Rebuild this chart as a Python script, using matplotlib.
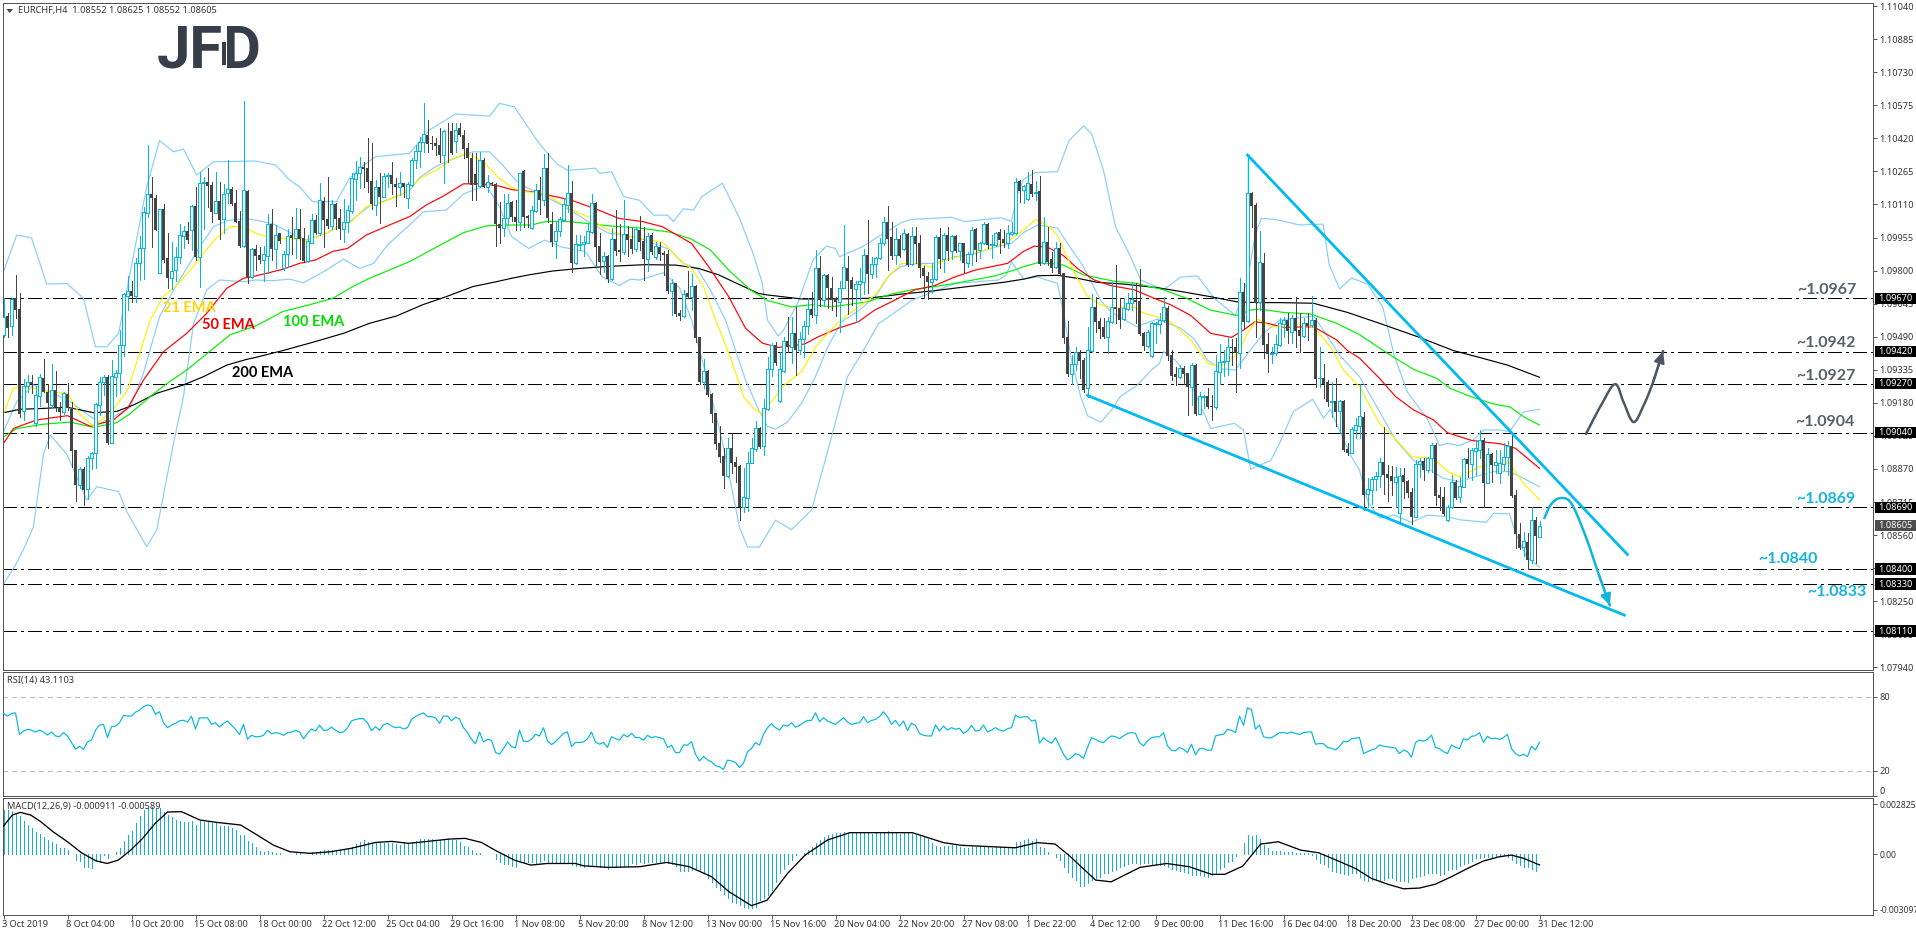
import numpy as np
import matplotlib
matplotlib.use("Agg")
import matplotlib.pyplot as plt
from matplotlib.patches import Rectangle

# ---------------- data: prices are in pips above 1.0000 ----------------
candle_dirs = ("UDUDDUUDUUDDUDDU" "DDDUDUUUUUDUUUUU" "DUUUUDDUDDUUUUDU" "DUUDDUDUUDDDUDUD"
               "DUUDUDUUDUDDUUDU" "DDUDDUUUUUDDDUDU" "UDDUDUUUUUDDDDUD" "DUDDDDDUDUDDDUUD"
               "DUDDUUDUDDUUUUDU" "UUUUDDUDUDDUDDUD" "DUDUDDDUDDUDUDDU" "DDDDDUDDDUUUUDUU"
               "UDUUDUDUUUDUDUDD" "DUUDDUUUDUUUUDDU" "DUDUDDDDUUDUDUDU" "DUUDUUDUUDDUUUDU"
               "UDUDUDDUDDDUUDDU" "UDDDUUDDUUUDDDUU" "UUUDDDUDDUDUUDDU" "UUUDDUDUDDUDDUUU"
               "UDUDDUDUDUDDUDUD" "DUUUDUUUUDDDUUDD" "DUUDUUDDDUUDUUDU" "UUDUDUUUUDDDUDUDU")

body_top = [
958.4,958.7,966.7,967,962,926,928,928,921.7,930,929.5,923,924,924,916,922.5,
922,915,896,887,887,892,894.3,917.3,927.6,930,930.3,930.6,932,945,969,970.3,
970.3,983.4,990.4,1007.6,1016,1016,1014,1008.7,1008.7,986,980,986.5,996.7,998.6,998.6,1010.3,
1010.3,1021,1021.5,1021.4,1020,1012.8,1012.6,1016,1018.4,1018.3,1011.5,1003.4,1017.8,1017.3,990,990,
987.3,987.8,1002,1001.8,996.7,997.5,987.8,996.2,996.7,999.3,999.3,995.4,993.9,1003.7,1003.7,1013,
1012.6,1004,1011.2,1011.2,1004.5,1002.6,1008.4,1023.3,1026,1028.4,1028.4,1028,1022,1019,1019,1024.3,
1024.8,1024.8,1020.6,1020.9,1020.9,1020.4,1032,1036.2,1040.4,1044,1043.6,1039.7,1040,1038.9,1045.4,1045,
1045.4,1046,1046.7,1043.6,1037.3,1033,1025.3,1032,1031.8,1021.7,1021.2,1020.4,1002,1004.5,1011.8,1012.3,
1005,1026,1026.7,1005.6,1008.4,1018,1017.8,1028,1028,1002,998.7,1004,1011.2,1016.2,1016.2,992.3,
992.5,993.6,998.6,1011.5,1011.5,991.5,986.8,986.8,994.7,994.7,989.7,997,997,994.7,999.3,999,
993.9,996.2,996.7,991.5,991.2,988.4,987.6,974,974,960.3,968.9,969.3,972.8,972.8,948.7,933,
933,922,913.4,899,893,896.7,896.7,890.4,888.4,873.7,890,896.7,906,906.4,915.4,934,
945,945,933.7,947,947,950.6,950.6,947.8,954,962,962,981,981,978,978,972,
967,972,981.5,981,975.6,973.7,975,987.3,987.3,983,985.8,993,1002.6,1003,995.6,995,
995,997.5,997,996.2,996,992.8,981,977.5,976,995.9,995.6,996.7,996.7,996.2,996.2,992.8,
992.8,988,999,999.3,992.8,1001.7,1001.7,992.3,997.5,998,995,997.5,998.3,1021.4,1022,1019.7,
1020.9,1020.6,1017,1017.3,993.3,993.3,985.4,990.4,990.4,978.7,949,936,942,942,938,942.8,
962.8,962.8,956.4,953.4,956.4,962.8,963,962.3,962.3,965,966.7,966.2,965.8,950.6,951.4,955.3,
955.3,956.8,962.8,962.3,940.4,931.5,934.2,934.5,931.8,935.8,935.8,921.2,921.2,921.2,916.5,933,
937,937.8,944.3,944.3,944.3,970,970,1016.2,1016.5,1010.7,983.9,983.4,945.6,941.2,945.6,955.3,
956.8,957,957.6,958,952,955.3,955.6,957,957,929.8,929.8,927.6,918.9,918.9,919,919,
896.4,905.6,907.6,911.8,911.5,877.5,882.2,883.7,890.1,890.1,884.5,883.7,883.4,883.7,884.2,881.4,
876.2,889.2,890.7,890.7,892.3,898.3,898.3,874.8,873.7,869,880.9,880.9,879,891.5,891.7,895.9,
896.7,900.6,900.6,894,894,890.4,889.7,892.5,897.8,897.8,874.8,856.5,853.2,852.9,863,863,860.5]

body_bottom = [
949.8,953,954,961.5,913,914,926,927,908.4,921.4,923,918,917,916,913.5,913.5,
915.5,895.5,879.5,879.5,877,877.6,892,894.3,917,927.6,899,899.3,930,932,945,968,
968,968,983.4,990.8,1007,1014,999,979,985,976.4,976.7,980.3,986.5,996.4,994.3,999,
986.5,986.5,1021,1019.7,1007.6,1007,1003.7,1004,1016.5,1011,1003,991.7,991.7,977,977,987,
985,985,987,990,990,994,981.4,987.6,995.4,995.4,995,984.5,984.5,993,997.8,997.5,
1003.7,1000.9,1001,1004,999.3,999.3,1002.6,1008,1022.8,1026,1027.5,1021.7,1011,1010.8,1014.6,1014.6,
1024.3,1020.4,1019,1019.3,1019,1013.9,1020,1031.8,1036,1040.3,1039.3,1039.3,1038.6,1034.2,1034.2,1044.8,
1035,1041,1043.6,1036.8,1032.6,1020,1020,1019.7,1019.3,1019.3,1020.4,1001.7,999.8,1000,1004.5,1005,
1003,1003,1005.3,1004.8,999.8,1008,1013,1013,1004.5,993.6,994,998.7,1003.7,1010.8,983.7,983.4,
992,992.3,993,998.3,991,984.2,984.7,976.2,976.2,989.2,988.9,988.9,994.3,990,990,993.6,
985.4,985.4,988.6,986.5,988,987.3,970.6,970.6,959.7,958.7,958.7,967.8,967.8,948.3,928,928,
921.7,913,898.7,892.8,883.9,883.9,890,888,869,869,873.6,890,896.4,897.5,898,915,
934,936.5,919,933,944,944,942.8,942.8,947.8,954,959,959,966,966,972,966,
965.4,965.4,972,975.3,971.4,971.4,973.6,974.8,978.4,978.4,983,985.8,992.8,995,986.8,987.3,
986.8,990,982.6,983,992.5,981,977.6,974.8,974.8,976,985.3,985.3,989.3,989.2,989.3,989.3,
983.4,983.4,988,989.7,989.7,992.8,992,992,992,994.3,992.8,992.8,997.2,997.8,1017.5,1018,
1013.6,1015.7,1016.2,983,983.4,984.2,981.4,981.8,978.4,948.6,931.5,931.5,936,937.8,924,924.8,
942.5,956,952.6,948.7,948.7,956,962,957,957.3,962,965,965.4,950.3,944.6,944.6,940,
954.8,955,956.8,940,930.8,930.3,930.3,931.5,925.6,925.6,913,913,920.6,916.2,915.9,915.9,
932.6,937,937.8,943.6,941.5,941.2,956,956.5,1010.4,965,965.4,945.1,940.8,940.8,941.2,945.1,
955,951.8,951.4,951.8,949.3,949.3,954,954.5,929,929.5,927,918.6,918.6,913.9,914,895.9,
894.3,894.7,905.3,907.3,874.8,875.3,877.2,882.2,883.9,884.2,883,881.4,881,866.5,881,875.9,
864.7,864.7,889.2,886.5,886.5,892,874.5,873.6,865.8,863,869,873.3,873.7,878.7,889.3,889.3,
895.4,895.9,880.6,880.6,888.9,888.9,885,889.3,892.5,874.5,856.5,849.8,850.6,844.3,844.3,855.6,855.2]

wick_high = [
967,960,967,978,969.5,929,931,931,926,931.5,938.5,927,936,933,918.5,923,
927.5,918.5,896,888,888,893,895,918,930,931,931,938,933.5,952,969.5,977.5,
975,986,996,1010,1039,1024,1015.5,1009,1011,997.5,993.5,991,1001.7,1001,1003,1010.8,
1019.3,1026.4,1024,1028,1021.7,1026.4,1021.7,1020.4,1032,1019,1018,1008,1059.5,1017.8,990.4,992,
991,991.5,1006.5,1009,1001.4,997.8,989,999.3,1005,1009.5,1008.7,999.8,996.7,1006.5,1006,1021,
1014.3,1023.7,1013,1011.8,1008.7,1013.4,1010.8,1025.6,1031.5,1033.4,1031,1042,1039.7,1022.5,1025.6,1025.6,
1025.6,1030.8,1023.3,1026.4,1021,1021.7,1032.6,1038.9,1042.8,1058.4,1050.6,1043,1042,1047,1046,1049.3,
1049.3,1049,1049.3,1046,1040,1035,1035,1035.8,1032.6,1024.8,1021.7,1021,1012.3,1016,1016,1012.8,
1013,1026,1027,1006,1010.3,1020.4,1023.7,1034.7,1035,1007.6,1003,1005,1013.9,1029.5,1022,996.7,
996.7,996,1002,1016,1012.3,997.5,988.6,987.3,999.8,1008.4,1001.8,1013,1001,999.8,999.8,1005.6,
1000.3,997.5,997.5,993.6,993.6,989.3,989.7,975.9,974.3,961.5,970.9,980,978.3,973.3,949,938.4,
933.4,922.8,913.4,907,896.7,901.4,904,892.8,888.9,887.5,895,901.4,909.5,906.8,920,939.3,
946,946.7,942,949,958.4,958.4,963,951.4,956.5,967,970,989.7,986.8,978.4,978.4,977,
967.8,975.3,1001.4,986.8,977,975.3,981,990,1003.7,986.2,986.5,995.4,1005.3,1010.3,1003,999.8,
996.7,999.3,997.5,1000.6,1000.6,996.7,982,979.5,983.7,996.7,999.8,997.8,1000.3,996.7,996.7,993,
993,988.9,1000.3,999.8,993.6,1002.6,1002.5,996.7,998.3,999.3,999,1001.4,1003,1023.3,1022.5,1020,
1026.4,1027,1022,1024.3,1005,1000.6,988.9,993.6,993,979,956.4,940.4,944.3,942.8,938.9,953.4,
969,967.8,957.6,958,958.4,974.8,982.6,967,967,969.3,974.8,974,980.6,951.4,952.2,956,
956,960,967.5,963.4,942.8,934.7,935.8,935.3,932,936.5,936,923.3,921.7,924.8,921.7,940.4,
945.6,942.8,949,947.8,948.3,976.4,974,1034.2,1017,1011.8,998.6,988.4,950.6,944.3,949.8,957.6,
958.4,960,959.2,967.8,960,957.6,960,968,957.6,944,936.2,928.7,928,929.8,919.4,919.4,
899.3,906.8,910.8,926.8,913.9,882.6,883.4,885.8,892,906.8,888.9,888.4,888,887.3,887.3,881.8,
878,891.2,892,892,892.8,899,899,878.7,878.7,870,884.2,881.8,883.4,892,896.7,896.7,
900.6,905.3,901.4,896.7,894.3,895.9,895.9,899,900.3,903.7,877,861.5,857.6,856.8,869,864.3,862.5]

wick_low = [
949,949,950,958,911.5,910,923,922.5,907,916.5,923,897,915.5,914,910,913,
914.5,888,872,878,870,873,887,887.5,912.3,921.7,898.7,899,921,922.5,940,961.5,
965.5,965.5,975.6,976,1005,991,999,978.7,984,971.7,971.4,975,983.4,990.4,992.8,989.7,
985,972.5,999.3,1010,1003,1007,995,997.5,1011.5,1010.8,1003,991,991,974.3,976.4,980.3,
983.4,975,979,985,981.4,992.8,980.3,981.8,988,985.8,985.4,984.2,984.2,992.8,997.2,996.7,
991.3,999.8,999.3,999.3,995,993.6,998,1006.8,1013,1018.6,1019,1017,1009,1006,1002.5,1014.3,
1019.3,1016,1010.3,1015.5,1014.7,1009.5,1019.8,1028,1028.4,1035.7,1035.7,1037,1034,1031,1021.2,1031,
1034.7,1035.7,1043,1032.6,1021,1013,1013,1019,1019,1017,1020,991.7,992.8,996.2,1002,1003.4,
999,999,1000.4,1000.4,999.3,1007.6,1006.5,1010.8,1003,991.5,986,996,1003.3,1007.6,979.5,983,
989.7,987,992.8,997.8,982.6,978.4,979.5,974.8,975.6,987.3,984.7,988,987,988.4,989.3,989.7,
975.6,980,988,985.3,985,978,969.3,959.2,958.7,956.8,958.4,967,961.5,946.4,927,924.8,
921.2,909.2,896.2,890.4,878.2,883.4,885,881,863,867,867.5,889.6,895.6,897,893.6,914.7,
930.6,935.7,918.6,932.6,942,936.5,931,941,939.3,950.3,958.4,955.6,963.4,963.4,962.4,961.5,
958.7,951.4,971.7,959.7,963.9,956,966.2,969,969.3,976.4,977,985.3,992,980.3,985.3,983,
986.5,989.7,982,982.6,983.4,977,967,966.5,969.3,975.6,981,979.5,985,985.3,988.9,985,
979.5,981.8,982.6,984.7,985.8,992.5,990.4,985.8,991.5,988.4,990.9,990.4,996.7,997.2,1012.3,1011.5,
1013,1015,1013,982.6,983,982.6,979.5,981.4,977.9,946,930.6,927,933.4,929.5,923.3,920.9,
942,951.4,948.3,948.3,941.2,955.6,955.3,953.3,956.8,961.5,961.5,955.6,949.8,942.8,944.3,939.7,
946.2,950.6,956,938,928.7,926.4,929.8,927,912.3,917,912.3,912.8,915.4,915.4,910,915,
927,930.6,931,935.7,923.3,934.2,953,956,1000.3,948.7,961.5,938.9,932.6,936.5,940.4,944.7,
949,946,945.9,944.3,942,948.7,947.5,953.7,925.6,925.6,920.4,916.5,911.5,907.3,903.7,895.4,
893.6,894.3,901.4,901.4,867.8,869.3,870.6,877,878.4,875.3,872.2,874.8,869.3,861.5,873.3,874,
861.2,864.3,883.4,881.8,885.8,885.8,870,867.8,865.5,862.8,868.6,872.8,871.7,878.4,883.4,881.8,
884.2,892,869,880.3,881,885,880.6,886.5,884.2,874,849.8,849.3,846,840,842.8,843,855.2]

ema21_idx = [0,2.5,6.7,12.5,16,19,22.5,27.5,31,34,36.7,40,43,47.5,52.5,56.7,60,63,67.3,71.5,75.7,80,84,87,90.7,94.8,99.8,104,109,112.3,116,120,123.5,127,130.5,135.5,138,143,147,150,155.5,160.5,165,169.5,172,175,178,182,185,187.5,189.5,192,195,199.5,203,206,209.5,214.5,218,220.5,224.5,228,232,235.3,240,245.3,251,255,258,261,263.5,265.5,267.7,271,274.3,277.7,282.7,285,288.5,291.8,296.8,301,304.3,308.5,311,313.5,317,320,324,327.5,332,335,339,344,347.5,352,357.5,361,364,369,373.3,376.5,380,384]
ema21_val = [913,925,925,923,922.5,913,907,915,924,941,957,968,972.5,982,994,1000.6,1000.6,997.5,995,995,994,997,1000.6,1003,1010,1012,1016,1023,1028,1032.6,1035,1031,1024,1019,1017,1016,1013,1007.6,1004.5,1000,996,995,993,984,981,972.5,957,938,921,915.4,913,918.6,926,932.6,944,950.6,957,964,968.6,975.6,983.4,983.4,981.5,985,987,989.6,993.6,999,1004,1001,996.7,988,979,968,964,962.3,963,960,958.4,956,947.5,936.5,935,941,950.6,957.3,953.7,953.7,955,953.7,943.6,933.4,925.6,908.4,902,892.8,892,885.8,883.4,888,889.7,889.7,880.3,872.5]

ema50_idx = [0,2.5,8.3,16,21.7,27.5,31,35,40,45.8,50.8,55.8,60,63,69.8,74,78,82.3,86,90.7,96.5,101.5,105.7,110,115,119.7,124,127,132,138,142,148.8,153.8,159.7,164.7,169,172,176.3,181.3,185.5,189.7,193.7,200.3,203.7,208.7,213.7,217.8,222,227.8,232.8,237.8,243,251,255,257.7,261,265,268.5,272.7,276.8,282.7,287.7,291.8,296.8,301.8,307,310.3,312.8,316,320,327.5,333.3,336,339,344,348,352.5,357.5,361,367,374.5,378,384]
ema50_val = [899,906,910,912,907,910,915.4,928.7,942,950.6,960,971.7,976.4,977.5,980.6,983.4,985,989,990.4,996.7,1001.4,1005.3,1010.8,1015,1020.7,1020.7,1019.6,1018,1017,1014.7,1013,1008.4,1004.5,1003,1000.6,996,992.8,981.8,967.8,953,946,944,945.6,949,953,956,961.5,965.4,971,973,977,980.3,983.4,989,991.5,991,987,981,975.6,973,971,967,964,959,950.6,948.7,952.5,956,955.3,953.4,953.7,947.5,942.5,939,929.5,921,914.7,910,904,900.4,898.7,896.7,887.3]

ema100_idx = [0,3.3,10,16.7,22.5,28.3,31.7,36.7,40.8,45.8,50.8,56.7,63,69.8,76.5,82.3,87.3,91.5,96.5,101.5,108.2,115,120.7,127,132,135.5,141.3,151.3,159,166.7,171.7,176.7,181.7,186.7,191,197,202,207,216,222,227,232.8,237.8,247.8,252.8,255,258.5,261.5,265,270,277.7,283.3,290,295.8,301.7,308.3,311.7,314,320,326.7,333.3,339,345.8,352.5,358.3,361.7,366.7,372.5,376.7,380,384]
ema100_val = [902,906,908,909,906.5,908.7,913,921,927,933.4,941,950,954,960.8,964,967,972.5,976.4,980.3,984.2,991,997.8,1001,1001.4,1001.4,1003,1003,1001,1000,998,995,989.7,979.5,971,966,963,964,963,965.4,969,971,972.5,974,977.5,980.3,981.8,983.7,983.4,982.6,978,975,974,971,967,961.5,959,961.5,962,960.4,959.7,955.3,950,941.5,933.7,929.5,924.8,921,917.5,916,911.5,907.6]

ema200_idx = [0,4.2,10,15.8,22.5,28.3,32.5,38.3,45,50,55.8,60.8,63,69.8,77.3,85,91.5,98.2,104.8,110.7,117.3,123.2,127,131.3,137.2,143.8,151.3,160.5,168,173.8,178.8,183.8,188.8,191,199.5,207.8,216,224.5,232.8,241,250,255,258.5,263.5,268.5,273.5,280,288.5,295,301.7,308.3,313.5,319,327.5,336,344,354,362.5,369,376,384]
ema200_val = [913.4,915,915.4,916,913.4,914,917,922.5,926.4,930.3,935.7,938.4,939.3,942.5,946.4,950.6,955.3,958.7,964,967.8,972.5,974.8,976.4,978,979.8,981,982,982.8,982.6,981,978,973.6,969.3,968.6,966.7,966.7,967,969,970.6,972.5,974.5,976,977.6,977.8,976.4,974.5,973.7,972,970,967.8,965.4,965,965,964.7,960.4,955.3,948.7,942.5,939.3,935.7,930]

bb_up_idx = [0,3.3,7,10.8,15.8,20,23,25.8,28.8,31,35.8,39,42.5,45,48.3,52.5,63,68,71.5,74,77.3,83.2,86.5,90,93,101.5,106.5,113,121.5,124,127.7,133.4,135.5,138.4,141,148,149,152,155,159,162.5,166,167.5,170,172.5,174.6,179.7,184,187.4,189.7,191,193.7,195,198.7,202.4,205.7,208,209,214.5,224.5,227,237,240.3,249.5,252,253.3,255,258,263.5,266.4,270,272,275,278,281.8,284.3,290,294.3,298.5,302.7,308,311,313,314.5,318,324,329.9,331.4,334,337,341,344.8,347.7,351,356,359,361,364,367.5,370,374.2,376.5,380,384]
bb_up_val = [979.5,996.7,995.4,973.7,974,967,944.3,944.3,950.6,972.5,1019.3,1041,1035.7,1037,1024.8,1031,1031.4,1029.5,1022.5,1019.3,1012.3,1012.3,1023.3,1029.5,1033.4,1035,1046,1053.4,1052.4,1058.4,1056.8,1041,1036,1030,1027,1028,1025.6,1026.4,1014.7,1013,1006,1006,1003,1009,1008.4,1014.7,1021,1004.6,988,974,956.8,949.3,952,965.4,985,991.5,990.4,986.5,991,1002.6,1004,1005,1003,1004.8,1003,1014.7,1022.8,1026,1026.4,1041,1047.8,1044.3,1027,1000.6,986.5,975.6,971,977,977.5,967,959,975.6,997.5,1004.5,1004,1001.4,1001.8,983,971.4,976.5,973.7,963,940,923,910.4,898,899,898,900.6,905.3,905.3,904.5,913.8,915]

bb_mid_idx = [0,3.3,7.5,11.7,16.7,20,24,27.5,31.7,35,39,43,49,52.5,55.8,60.8,63,67.3,71.5,75.7,80.7,87.3,91.5,96.5,101.5,104,108.2,113.2,117.3,121.5,124.8,128,129.7,134.7,138.8,143,147,151.3,155.5,160.5,166.7,170,173.4,176.7,180.5,185.5,188.8,191,193,196,199.5,203,206,209.5,214,218,221.5,224.5,228.7,232.8,237.8,243,248,252,255,258.5,263.5,266,270,274.3,276.8,283.3,288.5,294.3,297.7,301,304.3,308,311,315,319,327.5,330,334,339,344,348,352.5,356.7,360,364,368,372.5,376.5,380,384]
bb_mid_val = [904.5,918.6,926.4,923,918.6,914,908.4,911.5,916,932,958.4,972.5,991,1000.6,1003.4,1004.5,1003.7,1002,998,994.3,997.5,1004,1010.3,1013.5,1017.4,1023.6,1029,1033,1035.7,1035.7,1029.5,1022.5,1020,1015.4,1011.5,1006.8,1002,997.5,996.7,994.3,989.7,983.4,981,971,956.8,928.7,914.7,907,905.7,909,917.8,930.3,944,956,961.5,968,978,982,983.4,983.4,986.5,988,991,992.8,997.8,1001.4,1000,992.8,981.8,966,960.7,953.7,957.3,953,948,938,934,933.4,941,950.6,956.8,958.7,952,940.4,930.3,914,900.6,891,886.5,882.6,881,883.4,885.8,885.8,882.6,878.7]

bb_lo_idx = [0,3,5,7.5,10,11.7,15.8,20.8,23.3,28.8,30.8,35.8,38.3,42.5,45,47.5,50.8,54,60,63,67.3,71.5,75,80,85,89,92.5,96,101.5,105,110.7,115,120.7,124,127,131.3,135.3,139.7,145.5,149.7,154,156.7,159,165,169,172,176,180,184,186,189,193,197,202,207,211,214.5,218.7,223.7,227,230.3,238,248.7,250.7,252,255,258.5,263.5,265.3,267,269.3,271,274.3,277,279.2,283.5,287,289,290,293,296,298,301.8,307.7,310,311.8,316.8,319,322.5,327.3,330,331.7,336.7,339,341,344,347.7,352,356,361,364,370.7,372.5,376.5,378,380.7,384]
bb_lo_val = [833,842,849.3,860,894,903,894,872.5,878.7,876.4,867,850.6,858.4,899,921,955,971,975.6,974.8,975.6,975.3,976,974.3,979.5,985.4,981,983.4,992,1001.4,1007.6,1008.4,1016,1020,1010,996,990.4,994.3,991,988.9,977,973,976,975.6,979,972,957,928.7,897.4,859.7,850.4,850.4,863,858.6,867.7,902,930.3,941,955,961.5,966,968.6,974,975.6,978,984.2,976,977,974,957,938,921,912,909,914.6,921,926.4,933.4,936.5,942,938,930,922,906,908.4,905.3,886.9,891,899,914,919.7,910.8,915,893.6,886.5,872,864,865.4,862,865.4,864.7,863.2,862,866.2,866,857,846,841]

level_prices = [1.0967, 1.0942, 1.0927, 1.0904, 1.0869, 1.0840, 1.0833, 1.0811]
level_names = ["1.09670", "1.09420", "1.09270", "1.09040", "1.08690", "1.08400", "1.08330", "1.08110"]
price_ticks = [1.11040,1.10885,1.10730,1.10575,1.10420,1.10265,1.10110,1.09955,1.09800,1.09645,1.09490,
               1.09335,1.09180,1.09025,1.08870,1.08715,1.08560,1.08405,1.08250,1.08095,1.07940]

trend_upper_idx, trend_upper_val = [311, 406], [1034.2, 846.9]
trend_lower_idx, trend_lower_val = [271, 405.2], [921.5, 818.5]
path_up_idx = [395.6,399.6,402.9,405,407.5,410,412.4,414.9]
path_up_val = [903.4,917.6,926.8,918.4,909,916.7,927.8,942.3]
path_down_idx = [385.2,387,389.4,392,395.5,399,401.6]
path_down_val = [864,870.7,873.4,870.7,855.6,836.6,823]

rsi_values = [
66.6,64.4,66.6,67,49.6,52.3,53.7,53,51.5,53,51.5,49,51.5,48.3,47.7,51,
48.3,43,37.5,40,37.5,43.4,45,53,57,57.7,47,55.8,56.3,59,65,64.4,
64.4,67.6,69.2,72,73.5,72.5,65.8,68,59,55,57,58.5,60.6,61,59.6,64.4,
54,63,63,63,57.7,59,55.5,58.5,60.4,57,53.7,49.4,57.7,45.6,48.8,47.7,
47.7,48.8,53,50,51,50.4,48.8,51,51.5,52.8,51.5,46,50.4,54,52.3,57,
52.8,53,55.5,53,51,51.5,55,60.4,61.7,62.3,62.3,59,52.6,55.8,53,57.4,
58.5,56.3,55,55.5,54,55,61.7,64,65.8,67,64,64,63,58.5,64.4,64.4,
60.6,63.6,62,55,51,45.6,42,51.5,43.4,45.6,44.8,35,33.5,38,43.4,39.7,
38.6,53,44,43.7,45.6,49.6,48.3,55,44.2,41.3,43.7,47,50.4,51.5,39.7,43,
43,43.4,46,51.5,43.4,41.6,43,39,47.7,46,45,49.4,47.5,50.4,47,47,
44.8,48.8,46.9,47.7,46.9,46.1,38.9,40.8,34.8,34.8,41,40.8,43.7,33.5,28.1,31.6,
28.9,27.3,24.1,23.3,21.1,28.7,28.1,26.8,22.7,26.2,35.4,38.1,42.9,40.8,49.6,55,
58.2,55,53.1,57.2,56.3,59,55.3,56.9,59,60.9,60.9,67.1,59.8,63.1,60.4,59,
57.7,60.4,63.1,59.6,57.7,58.5,59,63.9,59,60.9,61.7,63.9,67.9,63.9,57.7,60.9,
56.3,60.4,52.8,58.5,56.9,50.4,48.8,48.3,48.3,57.2,52.3,56.3,53.1,55,53.7,54.5,
50.4,52.3,56.9,52.3,52.8,57.2,51.5,53.1,55,53.1,52.3,54.2,55,65.2,63.1,63.9,
63.9,60.4,61.2,42.4,46.9,44.2,42.4,46.9,40.2,33.5,28.9,30.8,34,32.7,30,38.9,
46.9,45.6,43.7,42.9,46.1,48.3,47.7,46.1,48.3,50.4,51,50.4,42.9,40.2,44.2,46.9,
47.5,47.7,51,40.2,36.7,36.2,38.9,37.5,34.8,41.6,33,38.1,38.1,36.7,36.7,48.3,
49.1,49.6,53.7,52.8,51,64.4,56.9,71.1,69.8,53.7,57.2,47.7,46.7,46.9,48.8,51,
51,50.4,51.5,50.4,49.4,51,51.5,51.5,41.6,42.1,42.1,38.9,38.3,37,39.7,
44,43.5,46,46.5,47,34,35.5,37,38,41,40,39.5,39,38.5,34,37,35.5,31,43,45,44,45.5,49,39,38,35.5,34,41,39,38,46,45,48,48.5,51,43,48,46,46.5,45.5,47,49.5,38,34,32,33.5,31.5,40,37,43.1]

# MACD in units of 0.0001
macd_hist = [
24.9,24.9,24.5,22.7,21.5,18.9,16.5,14.6,12.5,11.4,9.9,8.1,7.1,5.6,3.6,3.6,2.4,0,-3.2,-3.6,-7,-7.3,-7.9,-3.7,-4.1,-0.2,-2.2,0.1,1.5,3.7,7.5,10.9,
13.3,17.4,21.7,24.9,26.2,26.8,25.8,25.8,24,22.1,21.2,19.3,18.7,18.4,18.4,18.5,16.5,19,18.4,18.5,17.8,17.4,16.1,16.1,16.1,15,13.7,10.9,10.9,7.7,6.6,4.3,
1.9,1.5,1.9,1.5,0.9,0.6,0.2,0.2,0.4,0.9,0.6,0,0.2,1.1,1.5,1.9,2.2,2.4,2.4,2.4,2.4,2.8,3.4,4.3,5.8,7.1,8.1,7.1,6.2,6.6,7,6.6,
6.2,6.2,5.8,5.2,6.2,6.2,7.1,7.7,8.4,8.6,8.4,8.6,8.1,8.1,8.4,8.4,8.1,8.1,7.1,4.7,4.3,2.4,0.9,0.9,0.4,0.2,0,-2.8,-4.5,-5.4,-5.6,-6.4,
-6.9,-3.2,-4.1,-4.3,-4.1,-4.7,-4.1,-3.2,-4.1,-4.7,-5.1,-4.7,-4.7,-4.1,-6,-6.6,-6.6,-7,-6.6,-6,-6.6,-7.3,-7,-8.4,-7,-7.3,-7,-6.4,-6.6,-5.1,-5.4,-4.5,
-4.7,-4.1,-4.1,-4.1,-4.1,-4.1,-5.1,-5.6,-6.6,-9.2,-9.2,-9.2,-8.8,-7.9,-8.8,-10.7,-13.5,-15.4,-18.2,-20,-22.5,-24.7,-26.6,-27.5,-28.5,-29.8,-30.3,-30.3,-29.8,-25.7,-24.7,-22.8,
-20,-15.4,-10.7,-8.4,-5.4,-3.2,-0.4,0.2,0.9,2.4,4.3,6.2,8.1,9.9,10.9,11.2,11.8,12.2,12.4,12.2,12.2,12.4,12.2,12.4,11.8,11.4,11.8,11.8,12.2,13.1,12.2,11.8,
11.4,11.8,11.8,11.4,10.9,10.3,9.9,8.4,6.2,4.7,4.3,4.7,4.7,5.1,5.1,4.3,3.7,3.7,3.9,4.3,4.7,3.9,4.3,3.7,3.9,3.9,3.7,3.9,4.3,6.7,7.1,8.1,
8.4,7.7,8.4,4.3,3.4,1.5,0,-1.3,-3.2,-6.9,-9.7,-12.5,-14.4,-17.8,-17.8,-16.3,-14.4,-13.5,-12.9,-10.7,-10.3,-9.2,-8.8,-7.3,-6.6,-5.4,-4.7,-5.1,-5.4,-5.1,-5.1,-5.4,
-5.4,-6,-6,-7.3,-8.4,-8.8,-9.2,-9.7,-10.7,-11.6,-11.6,-11.6,-12.2,-12.5,-11.6,-10.7,-8.4,-7.3,-4.5,-3.7,-0.9,0,6.2,10.9,10.5,10.9,8.4,5.2,3.4,2.1,1.9,1.9,
1.5,1.5,1.1,0.9,0.6,0.6,0.6,-0.4,-2.8,-4.7,-5.4,-7.3,-9.2,-9.7,
-10.7,-11.2,-11.6,-10.7,-10.3,-12.5,-14.4,-14.8,-14.4,-14.4,-14.4,-14.1,-13.5,-13.5,-14.4,-14.8,-14.8,-15.4,-13.5,-12.5,-12.2,-11.6,-10.7,-10.7,-10.7,-11.6,-11,-8.8,-8.4,-8.4,-6.6,-5.4,-4.7,-3.6,-2.2,-2.2,-1.7,-1.3,-1.3,-0.9,-0.9,-0.4,-1.3,-3.2,-4.7,-6,-7.3,-7.3,-8.4,-9.1]

macd_sig_idx = [0,2.2,4.2,6.8,9.3,12.4,16,19.5,23.1,25.9,28.7,31.8,34.8,37.9,41,44.5,49.1,53.2,59.3,63.4,67.5,71.6,76.7,81.8,86.9,93,97.1,101.2,105.2,111.4,115.4,119.5,123.1,127.7,131.8,135.9,143,145,151.2,159.1,165.8,171.4,177,181.4,187,190.9,196,200.4,206,211.6,227.2,235,239.5,252.9,258.4,262.9,266.3,273,276.9,284.1,290.8,296.4,302,305.3,309.8,314.3,318.7,324.3,328.8,334.1,338,342,346,350,354,358,362,366,370,374,377,380,384]
macd_sig_val = [15.9,22.1,23.6,22.1,18.4,12.7,7.1,0.9,-3.6,-5.1,-3.2,2.4,9,17.4,23.8,24,19.3,18,16.5,10.9,5.2,1.5,0.6,1.5,3.4,6.7,7.3,6.2,7.1,8.6,9,6.7,2.1,-3.2,-6,-5.1,-5.1,-6.4,-7.3,-6.9,-4.5,-6.9,-12.5,-21,-28.8,-25.7,-10.7,-0.4,8.1,12.2,12.2,6.6,5.1,3.7,6.6,5.8,-0.4,-14.4,-15.4,-7.3,-5.1,-6.9,-11.2,-11.2,-6.6,5.8,7.1,2.4,0.9,-4.1,-7.9,-13.5,-16.7,-19.3,-18.9,-16.7,-12.5,-7.9,-3.7,-1.3,-0.4,-2.2,-5.9]

date_labels = ["3 Oct 2019","8 Oct 04:00","10 Oct 20:00","15 Oct 08:00","18 Oct 00:00","22 Oct 12:00","25 Oct 04:00",
               "29 Oct 16:00","1 Nov 08:00","5 Nov 20:00","8 Nov 12:00","13 Nov 00:00","15 Nov 16:00","20 Nov 04:00",
               "22 Nov 20:00","27 Nov 08:00","1 Dec 22:00","4 Dec 12:00","9 Dec 00:00","11 Dec 16:00","16 Dec 04:00",
               "18 Dec 20:00","23 Dec 08:00","27 Dec 00:00","31 Dec 12:00"]
BARS_PER_DATE_TICK = 16

# ---------------- layout / style ----------------
W, H = 1916, 936
FONT = "Noto Sans"
plt.rcParams["font.family"] = FONT
plt.rcParams["lines.scale_dashes"] = False
PX = 0.72
CYAN = "#00B8E0"
DARK = "#444444"
BAND = "#87CEFA"
TXT = "#333333"

fig = plt.figure(figsize=(W / 100, H / 100), dpi=100, facecolor="white")

def rect(l, t, r, b):
    return [l / W, 1 - b / H, (r - l) / W, (b - t) / H]

def ptext(x, y, s, **kw):
    kw.setdefault("va", "center")
    kw.setdefault("ha", "left")
    kw.setdefault("fontsize", 6.6)
    kw.setdefault("color", TXT)
    return fig.text(x / W, 1 - y / H, s, **kw)

def smooth(xs, ys, steps=12):
    """Rounded pen stroke through the given knots (Catmull-Rom); used for the hand-drawn arrows only."""
    p = np.column_stack([xs, ys])
    p = np.vstack([2 * p[0] - p[1], p, 2 * p[-1] - p[-2]])
    out = []
    for k in range(1, len(p) - 2):
        for t in np.linspace(0, 1, steps, endpoint=False):
            out.append(0.5 * (2 * p[k] + (p[k + 1] - p[k - 1]) * t
                              + (2 * p[k - 1] - 5 * p[k] + 4 * p[k + 1] - p[k + 2]) * t ** 2
                              + (3 * p[k] - p[k - 1] - 3 * p[k + 1] + p[k + 2]) * t ** 3))
    out.append(p[-2])
    out = np.array(out)
    return out[:, 0], out[:, 1]

XLIM = (-0.25, 467.375)
ax = fig.add_axes(rect(2.5, 2.5, 1873, 669.5))
ax_rsi = fig.add_axes(rect(2.5, 671.7, 1873, 796))
ax_macd = fig.add_axes(rect(2.5, 798.3, 1873, 915.3))

for a in (ax, ax_rsi, ax_macd):
    a.set_xlim(*XLIM)
    for s in a.spines.values():
        s.set_color("#555555")
        s.set_linewidth(PX)
    a.yaxis.tick_right()
    a.tick_params(axis="y", length=3, width=PX, color="#555555", labelsize=6.6, labelcolor=TXT, pad=1.5)
    a.tick_params(axis="x", length=0, labelbottom=False)

def price(v):
    return 1 + np.asarray(v, dtype=float) / 1e4

# main panel
ax.set_ylim(1.07930, 1.11057)
ax.set_yticks(price_ticks)
ax.set_yticklabels([f"{p:.5f}" for p in price_ticks])
ax.set_xticks([])

for lv in level_prices:
    ax.axhline(lv, color="black", lw=PX, antialiased=False, zorder=1.5,
               linestyle=(0, (10, 2.9, 1.5, 2.9)))

for idx, val, col in [(bb_up_idx, bb_up_val, BAND), (bb_mid_idx, bb_mid_val, BAND), (bb_lo_idx, bb_lo_val, BAND),
                      (ema200_idx, ema200_val, "black"), (ema100_idx, ema100_val, "#00F000"),
                      (ema50_idx, ema50_val, "#FF0000"), (ema21_idx, ema21_val, "#FFF000")]:
    ax.plot(idx, price(val), color=col, lw=0.85, zorder=2)

n = len(candle_dirs)
x = np.arange(n)
top = price(body_top)
bot = price(body_bottom)
hi = np.maximum(price(wick_high), top)
lo = np.minimum(price(wick_low), bot)
is_up = np.array([c == "U" for c in candle_dirs])
open_ = np.where(is_up, bot, top)
close = np.where(is_up, top, bot)

ax.vlines(x[~is_up], lo[~is_up], hi[~is_up], color=DARK, lw=PX, antialiased=False, zorder=3)
ax.vlines(x[is_up], lo[is_up], hi[is_up], color=CYAN, lw=PX, antialiased=False, zorder=3)
ax.bar(x[~is_up], (open_ - close)[~is_up], bottom=close[~is_up], width=0.72, color=DARK,
       linewidth=0, antialiased=False, zorder=3.1)
ax.bar(x[is_up], (close - open_)[is_up], bottom=open_[is_up], width=0.55, facecolor="white", edgecolor=CYAN,
       linewidth=PX, antialiased=False, zorder=3.1)

TREND = "#00BAF2"
ax.plot(trend_upper_idx, price(trend_upper_val), color=TREND, lw=2.0, zorder=5)
ax.plot(trend_lower_idx, price(trend_lower_val), color=TREND, lw=2.0, zorder=5)
ax.vlines(trend_upper_idx[0], price(1016.2), price(trend_upper_val[0]), color=TREND, lw=1.0, zorder=5)

for idx, val, col in [(path_up_idx, path_up_val, "#4C5965"), (path_down_idx, path_down_val, "#12B4DE")]:
    sx, sy = smooth(idx, val)
    ax.plot(sx, price(sy), color=col, lw=1.8, zorder=5, solid_capstyle="round", solid_joinstyle="round")
    ax.annotate("", xy=(idx[-1], price(val[-1])), xytext=(idx[-2], price(val[-2])),
                arrowprops=dict(arrowstyle="-|>,head_length=0.7,head_width=0.32", color=col, lw=1.5,
                                shrinkA=0, shrinkB=0), zorder=6)

# level price boxes on the axis
axis_tf = ax.get_yaxis_transform()
ax_w = (1873 - 2.5)
box_px = 11.5
per_px = (1.11057 - 1.07930) / 667.0
for lv, name in zip(level_prices, level_names):
    ax.add_patch(Rectangle((1 + 1.5 / ax_w, lv - box_px / 2 * per_px), 41.5 / ax_w, box_px * per_px,
                           transform=axis_tf, facecolor="black", edgecolor="none", clip_on=False, zorder=8))
    ax.text(1 + 5.5 / ax_w, lv, name, transform=axis_tf, color="white", fontsize=6.6, va="center", ha="left",
            clip_on=False, zorder=9)
LAST_CLOSE = 1.08605
ax.add_patch(Rectangle((1 + 1.5 / ax_w, LAST_CLOSE - box_px / 2 * per_px), 41.5 / ax_w, box_px * per_px,
                       transform=axis_tf, facecolor="#4D4D4D", edgecolor="none", clip_on=False, zorder=8))
ax.text(1 + 5.5 / ax_w, LAST_CLOSE, f"{LAST_CLOSE:.5f}", transform=axis_tf, color="white", fontsize=6.6,
        va="center", ha="left", clip_on=False, zorder=9)

# RSI panel
ax_rsi.set_ylim(-0.4, 100.4)
ax_rsi.plot(np.arange(len(rsi_values)), rsi_values, color=CYAN, lw=0.85, zorder=3)
for lv in (80, 20):
    ax_rsi.axhline(lv, color="#BBBBBB", lw=PX, antialiased=False, linestyle=(0, (3, 3)), zorder=1)
ax_rsi.set_yticks([80, 20, 0])
ax_rsi.set_yticklabels(["80", "20", "0"])
ax_rsi.get_yticklabels()[2].set_va("bottom")

# MACD panel
ax_macd.set_ylim(-34.2, 31.5)
ax_macd.vlines(np.arange(len(macd_hist)), 0, macd_hist, color="#10B0D8", lw=PX, antialiased=False, zorder=2)
ax_macd.plot(macd_sig_idx, macd_sig_val, color="black", lw=0.95, zorder=3)
ax_macd.set_yticks([28.25, 0, -30.97])
ax_macd.set_yticklabels(["0.002825", "0.00", "-0.003097"], fontsize=6.2)
date_pos = np.arange(len(date_labels)) * BARS_PER_DATE_TICK
ax_macd.set_xticks(date_pos)
ax_macd.tick_params(axis="x", length=3, width=PX, color="#555555")
xtf = ax_macd.get_xaxis_transform()
for p, lab in zip(date_pos, date_labels):
    ax_macd.text(p - 0.3, -(924.8 - 915.3) / 117.0, lab, transform=xtf, fontsize=6.6, color=TXT,
                 ha="left", va="center", clip_on=False)

# header texts
fig.add_artist(plt.Polygon([[6.5 / W, 1 - 9 / H], [13 / W, 1 - 9 / H], [9.7 / W, 1 - 13 / H]],
                           transform=fig.transFigure, facecolor="#444444", edgecolor="none"))
ptext(18, 10.5, "EURCHF,H4  1.08552 1.08625 1.08552 1.08605")
ptext(7, 680.7, "RSI(14) 43.1103", zorder=10)
ptext(7, 807, "MACD(12,26,9) -0.000911 -0.000589", zorder=10)

# drawn labels
EMA_FONT = dict(fontsize=10.5, fontweight="bold", family="Lato")
ptext(163, 308, "21 EMA", color="#FFD400", zorder=10, **EMA_FONT)
ptext(202, 325, "50 EMA", color="#F00000", zorder=10, **EMA_FONT)
ptext(283, 322, "100 EMA", color="#00E000", zorder=10, **EMA_FONT)
ptext(232, 373, "200 EMA", color="black", zorder=10, **EMA_FONT)

LV_FONT = dict(fontsize=11.5, fontweight="bold", family="Lato")
for lx, ly, s, col in [(1797, 290, "~1.0967", "#56616C"), (1796.5, 343, "~1.0942", "#56616C"),
                       (1796.5, 375.6, "~1.0927", "#56616C"), (1795, 422, "~1.0904", "#56616C"),
                       (1796.5, 499, "~1.0869", "#12B4DE"), (1758, 559, "~1.0840", "#12B4DE"),
                       (1807, 592, "~1.0833", "#12B4DE")]:
    ptext(lx, ly, s, color=col, zorder=10, **LV_FONT)

# logo
ptext(157, 51, "JFD", fontsize=43, fontweight="bold", family="Roboto", color="#363F49", zorder=10)
fig.add_artist(Rectangle((221.5 / W, 1 - 73.5 / H), 5 / W, 47 / H, transform=fig.transFigure,
                         facecolor="white", edgecolor="none", zorder=11))
fig.add_artist(Rectangle((222 / W, 1 - 65 / H), 4 / W, 23 / H, transform=fig.transFigure,
                         facecolor="#363F49", edgecolor="none", zorder=12))

fig.savefig("out.png", dpi=100, facecolor="white")
